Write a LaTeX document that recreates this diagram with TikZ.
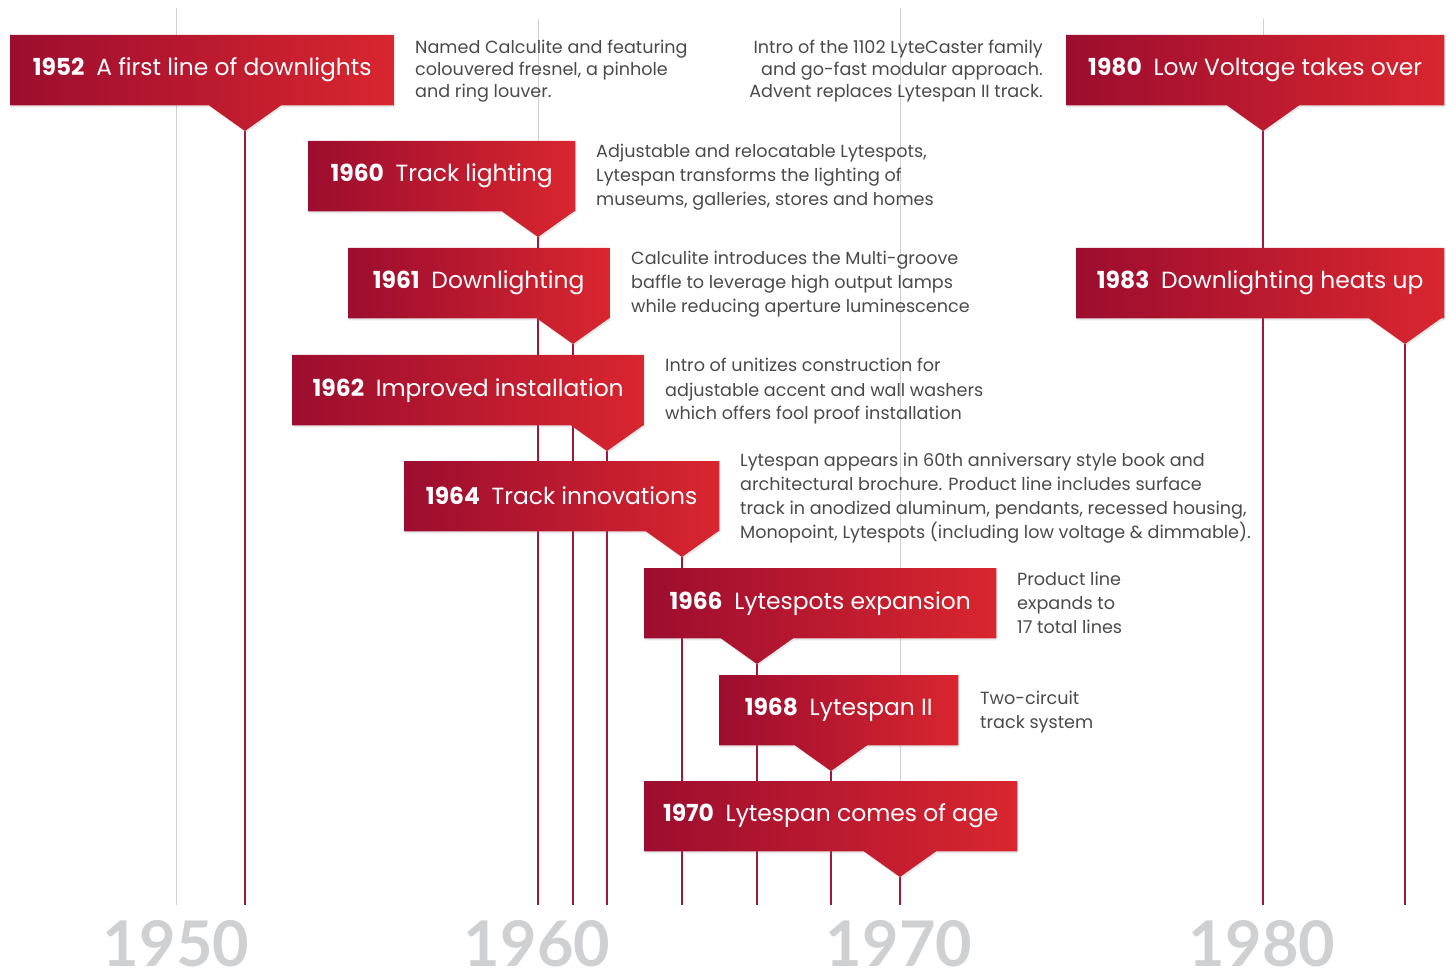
\documentclass[tikz,border=0pt]{standalone}
\usepackage{fontspec}
\setmainfont{Poppins}
\newfontfamily\decadefont{Lato}
\usetikzlibrary{calc,backgrounds,shadows}
\definecolor{boxdark}{HTML}{9C0D2F}
\definecolor{boxlight}{HTML}{D9262F}
\definecolor{linered}{HTML}{A3173D}
\definecolor{decadegrey}{HTML}{CFD0D2}
\definecolor{notegrey}{HTML}{4A4A4A}
\tikzset{
  yearbox/.style={anchor=north west, inner sep=0pt, minimum height=70pt, text=white, font=\fontsize{23.4}{28}\selectfont},
  boxshade/.style={left color=boxdark, right color=boxlight, drop shadow={opacity=0.18, shadow xshift=1pt, shadow yshift=-2pt}},
  note/.style={anchor=base west, inner sep=0pt, align=left, text=notegrey, font=\fontsize{17.6}{24}\selectfont},
  yearline/.style={draw=linered, line width=1.3pt},
  decadeline/.style={draw=decadegrey, line width=1pt},
  decade/.style={anchor=base, inner sep=0pt, text=decadegrey, font=\decadefont\bfseries\fontsize{63}{63}\selectfont}
}
\begin{document}
\begin{tikzpicture}[x=1pt,y=-1pt]
\useasboundingbox (0,0) rectangle (1451,973);
\coordinate (base) at (0,905);

\node (l50) [decade] at (176,966) {1950};
\node (l60) [decade] at (537,966) {1960};
\node (l70) [decade] at (899,966) {1970};
\node (l80) [decade] at (1262,966) {1980};
\coordinate (d50) at (176,8);
\coordinate (d60) at (538,19);
\coordinate (d70) at (900,8);
\coordinate (d80) at (1263,19);

\node (b52) [yearbox, minimum width=384] at (10,35) {\textbf{1952}\enspace A first line of downlights};
\coordinate (t52) at (245,131);
\node (n52) [note, font=\fontsize{17.6}{22}\selectfont] at (415,98) {Named Calculite and featuring\\colouvered fresnel, a pinhole\\and ring louver.};

\node (b60) [yearbox, minimum width=267] at (308,141) {\textbf{1960}\enspace Track lighting};
\coordinate (t60) at (538,237);
\node (n60) [note] at (596,206) {Adjustable and relocatable Lytespots,\\Lytespan transforms the lighting of\\museums, galleries, stores and homes};

\node (b61) [yearbox, minimum width=261] at (348,248) {\textbf{1961}\enspace Downlighting};
\coordinate (t61) at (573,344);
\node (n61) [note] at (631,313) {Calculite introduces the Multi-groove\\baffle to leverage high output lamps\\while reducing aperture luminescence};

\node (b62) [yearbox, minimum width=352] at (292,355) {\textbf{1962}\enspace Improved installation};
\coordinate (t62) at (607,451);
\node (n62) [note] at (665,420) {Intro of unitizes construction for\\adjustable accent and wall washers\\which offers fool proof installation};

\node (b64) [yearbox, minimum width=315] at (404,461) {\textbf{1964}\enspace Track innovations};
\coordinate (t64) at (682,557);
\node (n64) [note] at (740,538) {Lytespan appears in 60th anniversary style book and\\architectural brochure. Product line includes surface\\track in anodized aluminum, pendants, recessed housing,\\Monopoint, Lytespots (including low voltage \& dimmable).};

\node (b66) [yearbox, minimum width=352] at (644,568) {\textbf{1966}\enspace Lytespots expansion};
\coordinate (t66) at (757,664);
\node (n66) [note] at (1017,633) {Product line\\expands to\\17 total lines};

\node (b68) [yearbox, minimum width=239] at (719,675) {\textbf{1968}\enspace Lytespan II};
\coordinate (t68) at (831,771);
\node (n68) [note] at (980,728) {Two-circuit\\track system};

\node (b70) [yearbox, minimum width=373] at (644,781) {\textbf{1970}\enspace Lytespan comes of age};
\coordinate (t70) at (900,877);

\node (b80) [yearbox, minimum width=378] at (1066,35) {\textbf{1980}\enspace Low Voltage takes over};
\coordinate (t80) at (1263,131);
\node (n80) [note, anchor=base east, align=right, font=\fontsize{17.6}{22}\selectfont] at (1043,98) {Intro of the 1102 LyteCaster family\\and go-fast modular approach.\\Advent replaces Lytespan II track.};

\node (b83) [yearbox, minimum width=368] at (1076,248) {\textbf{1983}\enspace Downlighting heats up};
\coordinate (t83) at (1405,344);

\begin{scope}[on background layer]
\foreach \d in {50,60,70,80}
  \draw[decadeline] (d\d) -- (d\d |- base);
\foreach \y in {52,60,61,62,64,66,68,70,80,83}
  \draw[yearline] (t\y) -- (t\y |- base);
\foreach \y in {52,60,61,62,64,66,68,70,80,83}
  \path[boxshade] (b\y.north west) -- (b\y.north east) -- (b\y.south east)
    -- ($(t\y |- b\y.south)+(36,0)$) -- (t\y) -- ($(t\y |- b\y.south)+(-36,0)$)
    -- (b\y.south west) -- cycle;
\end{scope}
\end{tikzpicture}
\end{document}
